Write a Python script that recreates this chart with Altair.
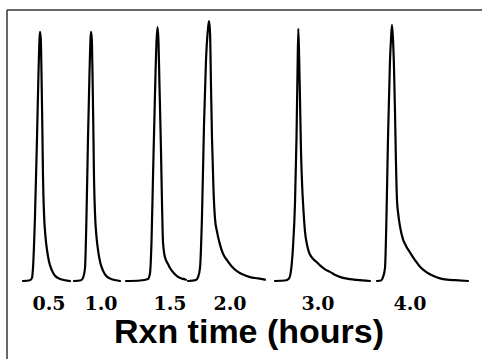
import altair as alt
import pandas as pd

# Six chromatogram traces, one per reaction time (x = position along trace, v = detector signal 0-100)
peak_labels = ["0.5", "1.0", "1.5", "2.0", "3.0", "4.0"]

p1_x = [23, 30, 32, 33, 35, 37, 38.5, 39.5, 40, 40.8, 41.5, 42.3, 43, 44, 45.5, 47, 49, 52, 55, 60, 65, 70]
p1_v = [0, 0.3, 1.2, 5, 25, 55, 80, 93, 95.8, 93, 80, 60, 40, 26, 17, 12, 7.5, 4, 2, 0.8, 0.3, 0]

p2_x = [74, 81, 83, 85, 86.5, 88, 89.5, 90.5, 91, 91.8, 92.5, 93.3, 94, 95, 96.5, 98, 100, 103, 106, 111, 116, 120]
p2_v = [0, 0.3, 1.2, 5, 25, 55, 80, 93, 95.8, 93, 80, 60, 40, 26, 17, 12, 7.5, 4, 2, 0.8, 0.3, 0]

p3_x = [126, 140, 148, 150, 151.5, 153, 155, 156.5, 157.5, 158.5, 159.5, 161, 162, 163, 164.5, 166, 168, 170, 174, 178, 183, 186]
p3_v = [0, 0.2, 0.8, 3, 15, 40, 72, 92, 97.7, 92, 75, 50, 30, 15, 10, 8, 6.5, 5, 3, 1.6, 0.8, 0.5]

p4_x = [188, 196, 198, 200, 202, 204, 206, 208, 209, 210, 211, 212, 213.5, 215, 217, 220, 223, 227, 232, 238, 243, 250, 258, 265]
p4_v = [0, 0.4, 1.5, 5, 25, 60, 85, 97, 100, 96, 75, 55, 35, 24, 19, 14, 10.5, 8, 5.5, 3.5, 2.5, 1.5, 1, 0.5]

p5_x = [275, 285, 289, 291, 293, 295, 296.5, 297.5, 298.3, 299.2, 300, 301, 302, 303.5, 305, 307, 309, 312, 316, 320, 325, 330, 337, 343, 350, 357, 370]
p5_v = [0, 0.2, 1, 4, 13, 30, 55, 80, 97, 85, 70, 50, 38, 27, 19, 14, 11, 9, 7.5, 6, 4.5, 3.5, 2, 1.2, 0.7, 0.4, 0]

p6_x = [377, 381, 383, 385, 386.5, 388, 390, 391, 392, 393, 394, 395, 396, 397, 398.5, 400, 403, 406, 410, 415, 420, 426, 433, 440, 447, 455, 468]
p6_v = [0, 0.2, 1.5, 5, 25, 55, 85, 93, 98.5, 93, 82, 65, 45, 31, 25, 21, 16, 13.5, 11, 8, 5.5, 3.5, 2, 1, 0.5, 0.3, 0]

label_x = [49, 101, 170, 230, 318, 410]

traces = [(p1_x, p1_v), (p2_x, p2_v), (p3_x, p3_v), (p4_x, p4_v), (p5_x, p5_v), (p6_x, p6_v)]
rows = []
for lab, (xs, vs) in zip(peak_labels, traces):
    for i, (a, b) in enumerate(zip(xs, vs)):
        rows.append({"peak": lab, "i": i, "x": a, "v": b})
df = pd.DataFrame(rows)
lab_df = pd.DataFrame({"label": peak_labels, "x": label_x, "v": [-11.0] * len(peak_labels)})

W, H = 482, 359
xs = alt.Scale(domain=[0, 482], nice=False, zero=False)
ys = alt.Scale(domain=[-30.0, 108.08], nice=False, zero=False)

lines = alt.Chart(df).mark_line(
    color="black", strokeWidth=2.2, interpolate="monotone", strokeCap="round", strokeJoin="round"
).encode(
    x=alt.X("x:Q", scale=xs, axis=None),
    y=alt.Y("v:Q", scale=ys, axis=None),
    detail="peak:N",
    order="i:Q",
)

labels = alt.Chart(lab_df).mark_text(
    font="DejaVu Serif", fontWeight="bold", fontSize=19, baseline="alphabetic", align="center", color="black"
).encode(
    x=alt.X("x:Q", scale=xs, axis=None),
    y=alt.Y("v:Q", scale=ys, axis=None),
    text="label:N",
)

title = alt.Chart(pd.DataFrame({"t": ["Rxn time (hours)"]})).mark_text(
    font="Liberation Sans", fontWeight="bold", fontSize=34, baseline="alphabetic", align="center", color="black"
).encode(x=alt.value(249), y=alt.value(343), text="t:N")

top_border = alt.Chart(pd.DataFrame({"a": [0]})).mark_rule(color="#333", strokeWidth=1.5).encode(
    x=alt.value(7), x2=alt.value(482), y=alt.value(10)
)
left_border = alt.Chart(pd.DataFrame({"a": [0]})).mark_rule(color="#333", strokeWidth=1.5).encode(
    x=alt.value(7), y=alt.value(10), y2=alt.value(359)
)

chart = alt.layer(top_border, left_border, lines, labels, title).properties(
    width=W, height=H, autosize=alt.AutoSizeParams(type="none"), padding=0, background="white"
).configure_view(stroke=None)

chart.save("out.html", embed_options={"renderer": "svg", "actions": False})
